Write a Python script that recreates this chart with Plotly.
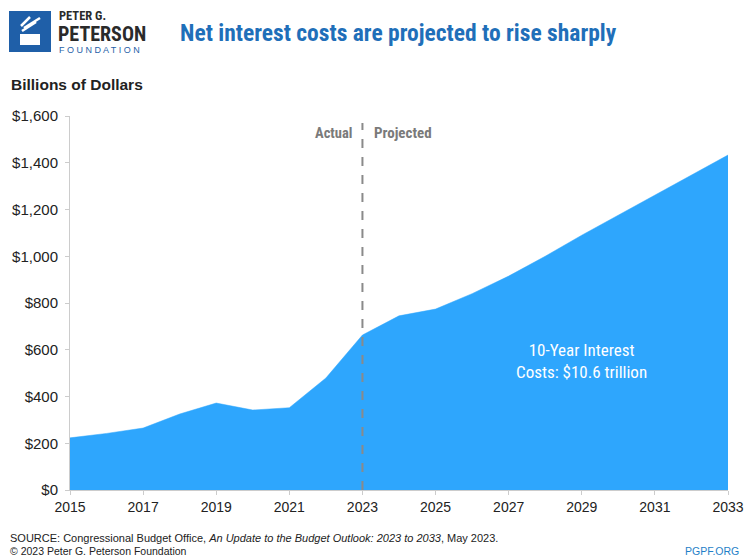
import plotly.graph_objects as go

years = [2015, 2016, 2017, 2018, 2019, 2020, 2021, 2022, 2023, 2024,
         2025, 2026, 2027, 2028, 2029, 2030, 2031, 2032, 2033]
interest = [223, 242, 265, 325, 372, 342, 352, 479, 663, 745,
            774, 840, 915, 1000, 1090, 1175, 1260, 1345, 1433]
y_ticks = [0, 200, 400, 600, 800, 1000, 1200, 1400, 1600]
y_tick_labels = ["$0", "$200", "$400", "$600", "$800", "$1,000", "$1,200", "$1,400", "$1,600"]
x_ticks = [2015, 2017, 2019, 2021, 2023, 2025, 2027, 2029, 2031, 2033]

W, H = 749, 557
L, R, T, B = 70, 21, 116, 67
FILL = "#2ea6fd"
COND = "Liberation Sans Narrow, Roboto Condensed, Arial Narrow, Roboto, sans-serif"
SANS = "Liberation Sans, Arial, sans-serif"

fig = go.Figure()
fig.add_trace(go.Scatter(
    x=years, y=interest, mode="lines", fill="tozeroy",
    line=dict(color=FILL, width=0.5), fillcolor=FILL, hoverinfo="skip",
    showlegend=False))

fig.add_shape(type="line", x0=2023, x1=2023, y0=0, y1=1570, xref="x", yref="y",
              line=dict(color="#8a8a8a", width=2, dash="dash"))

fig.update_layout(
    width=W, height=H, margin=dict(l=L, r=R, t=T, b=B, autoexpand=False),
    paper_bgcolor="white", plot_bgcolor="white",
    xaxis=dict(range=[2015, 2033], tickvals=x_ticks, ticktext=[str(v) for v in x_ticks],
               showgrid=False, zeroline=False, showline=True, linecolor="#cccccc", linewidth=1,
               ticks="outside", ticklen=4, tickcolor="#cccccc", automargin=False,
               tickfont=dict(family=SANS, size=14, color="#222222")),
    yaxis=dict(range=[0, 1600], tickvals=y_ticks, ticktext=y_tick_labels,
               showgrid=False, zeroline=False, showline=True, linecolor="#cccccc", linewidth=1,
               ticks="outside", ticklen=4, tickcolor="#cccccc", automargin=False,
               ticklabelstandoff=4,
               tickfont=dict(family=SANS, size=15, color="#222222")),
)

ann = []
# title
ann.append(dict(text="<b>Net interest costs are projected to rise sharply</b>", x=178, y=33,
                xanchor="left", font=dict(family=COND, size=23.5, color="#1f6fb9")))
# axis title
ann.append(dict(text="<b>Billions of Dollars</b>", x=9, y=84, xanchor="left",
                font=dict(family=SANS, size=15.5, color="#222222")))
# actual / projected
ann.append(dict(text="<b>Actual</b>", x=354, y=133, xanchor="right",
                font=dict(family=COND, size=14.5, color="#7a7a7a")))
ann.append(dict(text="<b>Projected</b>", x=372, y=133, xanchor="left",
                font=dict(family=COND, size=15, color="#7a7a7a")))
# in-area note
ann.append(dict(text="10-Year Interest<br>Costs: $10.6 trillion", x=581, y=361,
                xanchor="center", font=dict(family=COND, size=17, color="white")))
# footer
ann.append(dict(text="SOURCE: Congressional Budget Office, <i>An Update to the Budget Outlook: 2023 to 2033</i>, May 2023.",
                x=8, y=538, xanchor="left", font=dict(family=SANS, size=11, color="#222222")))
ann.append(dict(text="© 2023 Peter G. Peterson Foundation", x=8, y=551, xanchor="left",
                font=dict(family=SANS, size=10.5, color="#222222")))
ann.append(dict(text="PGPF.ORG", x=741, y=551, xanchor="right",
                font=dict(family=SANS, size=10.5, color="#1f7fc8")))
# logo text
ann.append(dict(text="<b>PETER G.</b>", x=57, y=15, xanchor="left",
                font=dict(family=COND, size=12.5, color="#2a2a2a")))
ann.append(dict(text="<b>PETERSON</b>", x=56, y=34, xanchor="left",
                font=dict(family=COND, size=20, color="#2a2a2a")))
ann.append(dict(text="F O U N D A T I O N", x=57, y=50, xanchor="left",
                font=dict(family=SANS, size=9, color="#1f5fa8")))

pw, ph = W - L - R, H - T - B
for a in ann:
    a["xref"] = "paper"
    a["yref"] = "paper"
    a["showarrow"] = False
    a["yanchor"] = "middle"
    a["x"] = (a["x"] - L) / pw
    a["y"] = (H - a["y"] - B) / ph
fig.update_layout(annotations=ann)

def px(xp, yp):
    return (xp - L) / pw, (H - yp - B) / ph

# logo square
x0, y0 = px(9, 52)
x1, y1 = px(51, 11)
fig.add_shape(type="rect", xref="paper", yref="paper", x0=x0, y0=y0, x1=x1, y1=y1,
              fillcolor="#1f5fa8", line=dict(width=0))
# torch bowl
bx0, by0 = px(20, 45)
bx1, by1 = px(40, 34)
fig.add_shape(type="rect", xref="paper", yref="paper", x0=bx0, y0=by0, x1=bx1, y1=by1,
              fillcolor="white", line=dict(width=0))
for (a, b, c, d) in [(22, 31, 36, 22), (24, 28, 40, 18), (21, 26, 30, 17)]:
    ax, ay = px(a, b)
    cx, cy = px(c, d)
    fig.add_shape(type="line", xref="paper", yref="paper", x0=ax, y0=ay, x1=cx, y1=cy,
                  line=dict(color="white", width=2.5))

fig.write_html("out.html")
